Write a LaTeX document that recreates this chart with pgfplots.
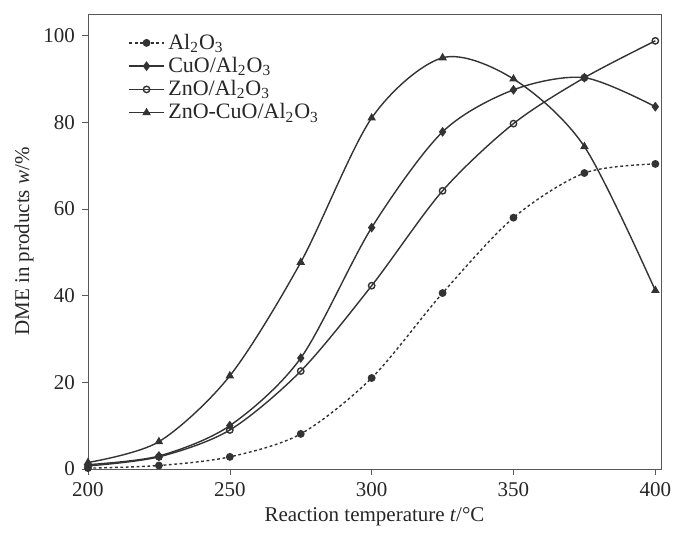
\documentclass[border=0pt]{standalone}
\usepackage{fontspec}
\setmainfont{Liberation Serif}
\usepackage{pgfplots}
\pgfplotsset{compat=1.18}
\begin{document}
\begin{tikzpicture}
\begin{axis}[
  scale only axis,
  width=286.5pt, height=227.5pt,
  xmin=200, xmax=402, ymin=0, ymax=105,
  xtick={200,250,...,400}, ytick={0,20,...,100},
  tick align=outside,
  xtick pos=bottom, ytick pos=left,
  major tick length=3pt,
  axis line style={black!65},
  tick style={black!65},
  /pgf/number format/assume math mode=true,
  tick label style={font=\fontsize{10.5}{12}\selectfont, black!85},
  label style={font=\fontsize{10.5}{12}\selectfont, black!85},
  xlabel={Reaction temperature \textit{t}/\textdegree C},
  ylabel={DME in products \textit{w}/\%},
  xlabel style={yshift=1pt},
  ylabel style={yshift=-2pt},
  legend style={at={(0.06,0.975)}, anchor=north west, draw=none, fill=none,
    font=\fontsize{11}{12}\selectfont, row sep=-1.5pt, text=black!85},
  legend cell align=left,
  every axis plot/.append style={line width=0.7pt, black!80, smooth, tension=0.5},
  mark options={solid},
]
\addplot[dash pattern=on 1.4pt off 1.3pt, mark=*, mark size=1.6pt, mark options={solid, fill=black!80}]
  coordinates {(200,0.2) (225,0.8) (250,2.8) (275,8.1) (300,21) (325,40.6) (350,58) (375,68.3) (400,70.4)};
\addlegendentry{Al\textsubscript{2}O\textsubscript{3}}
\addplot[mark=diamond*, mark size=1.9pt, mark options={fill=black!80}]
  coordinates {(200,1) (225,3) (250,10) (275,25.6) (300,55.7) (325,77.8) (350,87.5) (375,90.3) (400,83.6)};
\addlegendentry{CuO/Al\textsubscript{2}O\textsubscript{3}}
\addplot[mark=o, mark size=1.6pt, mark options={fill=white}]
  coordinates {(200,0.7) (225,2.8) (250,9) (275,22.6) (300,42.3) (325,64.2) (350,79.7) (375,90.3) (400,98.8)};
\addlegendentry{ZnO/Al\textsubscript{2}O\textsubscript{3}}
\addplot[mark=triangle*, mark size=1.8pt, mark options={fill=black!80}]
  coordinates {(200,1.5) (225,6.3) (250,21.5) (275,47.7) (300,81) (325,94.9) (350,90) (375,74.4) (400,41.2)};
\addlegendentry{ZnO-CuO/Al\textsubscript{2}O\textsubscript{3}}
\end{axis}
\path (current axis.south west) ++(-44pt,-32.5pt) rectangle ++(342pt,267pt);
\end{tikzpicture}
\end{document}
